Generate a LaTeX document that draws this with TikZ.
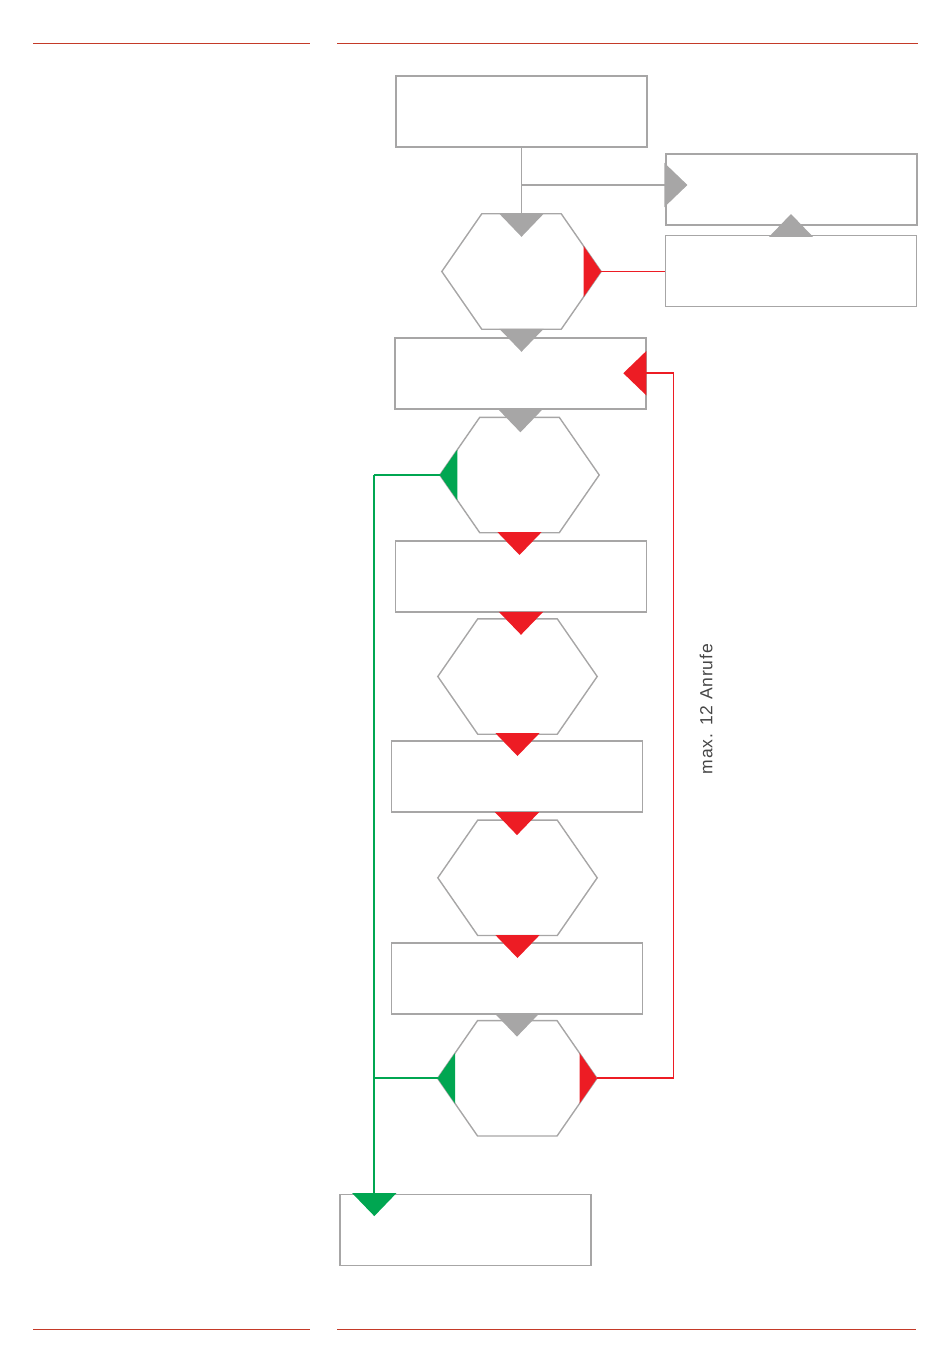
\documentclass[tikz,border=0pt]{standalone}
\usepackage{fontspec}
\setmainfont{Liberation Sans}
\usepackage{tikz}
\usetikzlibrary{shapes}
\usetikzlibrary{positioning}
\usetikzlibrary{arrows.meta}
\usepackage{xcolor}
\definecolor{boxgray}{RGB}{167,166,166}
\definecolor{flowred}{RGB}{237,28,36}
\definecolor{flowgreen}{RGB}{0,166,81}
\definecolor{rulered}{RGB}{196,58,40}
\definecolor{labelgray}{RGB}{70,70,70}

\begin{document}
\begin{tikzpicture}[x=1pt,y=-1pt,
  box/.style={draw=boxgray,line width=1.8pt,minimum width=251pt,minimum height=71pt,inner sep=0pt},
  hexa/.style={minimum width=159pt,minimum height=115pt,inner sep=0pt},
  flowarrow/.style={-{Triangle[width=44pt,length=23pt]},line width=1.7pt,draw=#1},
  flowline/.style={line width=1.7pt,draw=#1}]
\useasboundingbox (0,0) rectangle (950,1364);
\draw[rulered,line width=0.8pt] (33,43)--(310,43) (337,43)--(918,43);
\draw[rulered,line width=0.8pt] (33,1329)--(310,1329) (337,1329)--(916,1329);
% boxes and hexagons
\node[box] (b1) at (521.5,111.3) {};
\node[box] (r1) at (791.8,189.3) {};
\node[box] (r2) at (791,271) {};
\node[hexa] (h1) at (521.5,271.5) {};
\node[box] (b2) at (520.4,373.2) {};
\node[hexa] (h2) at (519.5,475) {};
\node[box] (b3) at (521,576.4) {};
\node[hexa] (h3) at (517.5,676.5) {};
\node[box] (b4) at (517,776.4) {};
\node[hexa] (h4) at (517.5,877.8) {};
\node[box] (b5) at (517,978.4) {};
\node[hexa] (h5) at (517.3,1078.3) {};
\node[box] (b6) at (465.5,1230) {};
\foreach \h in {h1,h2,h3,h4,h5}
  \draw[boxgray,line width=1.4pt] (\h.west) -- ([xshift=-39.75pt]\h.north) -- ([xshift=39.75pt]\h.north)
    -- (\h.east) -- ([xshift=39.75pt]\h.south) -- ([xshift=-39.75pt]\h.south) -- cycle;
\node[rotate=90,text=labelgray,font=\fontsize{17.5}{19}\selectfont\addfontfeatures{LetterSpace=5}] (calls) at (706,709) {max. 12 Anrufe};
% gray path at the top
\coordinate (br) at (b1.south |- 0,185);
\coordinate (r1in) at (r1.west |- br);
\draw[boxgray,line width=1.2pt] (b1) -- (h1);
\draw[flowarrow=boxgray,line width=1.2pt,shorten >=-23pt] (b1.south |- h1.north) -- ++(0,0.01);
\draw[flowarrow=boxgray,line width=1.2pt,shorten >=-22pt] (br) -- (r1in);
\draw[flowarrow=boxgray,shorten >=-11.7pt] (r2.north) -- (r2.north |- r1.south);
\draw[flowline=flowred] (h1.east) -- (h1.east -| r2.west);
% steps down
\draw[flowarrow=boxgray,shorten >=-15pt] (h1.south) -- (h1.south |- b2.north);
\draw[flowarrow=boxgray,shorten >=-15pt] (b2.south) -- (b2.south |- h2.north);
\draw[flowarrow=flowred,shorten >=-15pt] (h2.south) -- (h2.south |- b3.north);
\draw[flowarrow=flowred,shorten >=-16pt] (b3.south) -- (b3.south |- h3.north);
\draw[flowarrow=flowred,shorten >=-16pt] (h3.south) -- (h3.south |- b4.north);
\draw[flowarrow=flowred,shorten >=-15pt] (b4.south) -- (b4.south |- h4.north);
\draw[flowarrow=flowred,shorten >=-16pt] (h4.south) -- (h4.south |- b5.north);
\draw[flowarrow=boxgray,shorten >=-16pt] (b5.south) -- (b5.south |- h5.north);
% green exits
\coordinate (gc) at (374.3,475);
\draw[flowline=flowgreen] (h2.west) -- (gc);
\draw[flowline=flowgreen] (h5.west) -- (gc |- h5.west);
\draw[flowarrow=flowgreen,shorten >=-22.5pt] (gc) -- (gc |- b6.north);
% red loop
\coordinate (rx) at (673.5,373.2);
\draw[flowarrow=flowred,shorten >=-23.5pt] (h5.east) -| (rx) -- (b2.east);
% coloured corners
\fill[flowred] (h1.east) -- ([shift={(-17.5,-25.3)}]h1.east) -- ([shift={(-17.5,25.3)}]h1.east) -- cycle;
\fill[flowred] (h5.east) -- ([shift={(-17.5,-25.3)}]h5.east) -- ([shift={(-17.5,25.3)}]h5.east) -- cycle;
\fill[flowgreen] (h2.west) -- ([shift={(17.5,-25.3)}]h2.west) -- ([shift={(17.5,25.3)}]h2.west) -- cycle;
\fill[flowgreen] (h5.west) -- ([shift={(17.5,-25.3)}]h5.west) -- ([shift={(17.5,25.3)}]h5.west) -- cycle;
\end{tikzpicture}
\end{document}
